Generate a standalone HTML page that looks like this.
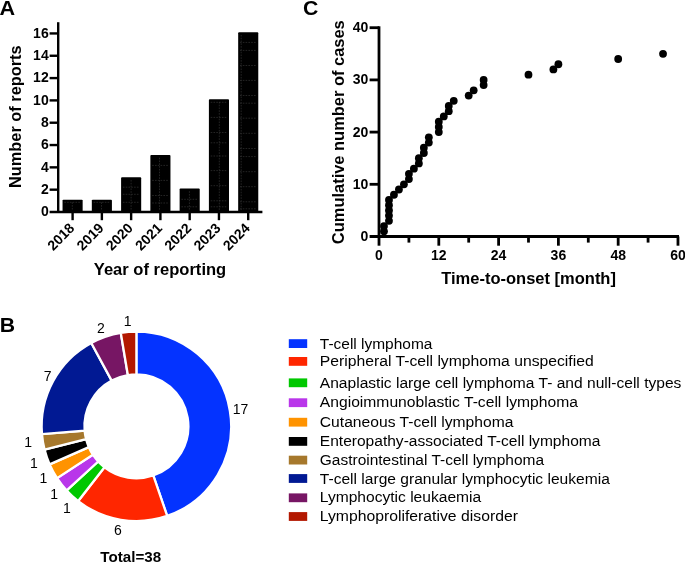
<!DOCTYPE html>
<html lang="en"><head><meta charset="utf-8"><title>Figure</title>
<style>html,body{margin:0;padding:0;background:#fff}svg{display:block;will-change:transform}text{font-family:"Liberation Sans",Arial,Helvetica,sans-serif;fill:#000}.b{font-weight:700}</style></head><body>
<svg width="685" height="563" viewBox="0 0 685 563">
<rect width="685" height="563" fill="#fff"/>
<g id="panelA">
<text class="b" font-size="19.3" transform="translate(-0.6 15.3) scale(1.12 1)">A</text>
<path d="M58.2 22.2V213.0" stroke="#000" stroke-width="2.4" fill="none"/>
<path d="M49.6 212.0H262.4" stroke="#000" stroke-width="2.4" fill="none"/>
<path d="M49.6 189.68H58.2" stroke="#000" stroke-width="2.4"/>
<path d="M49.6 167.36H58.2" stroke="#000" stroke-width="2.4"/>
<path d="M49.6 145.04H58.2" stroke="#000" stroke-width="2.4"/>
<path d="M49.6 122.72H58.2" stroke="#000" stroke-width="2.4"/>
<path d="M49.6 100.40H58.2" stroke="#000" stroke-width="2.4"/>
<path d="M49.6 78.08H58.2" stroke="#000" stroke-width="2.4"/>
<path d="M49.6 55.76H58.2" stroke="#000" stroke-width="2.4"/>
<path d="M49.6 33.44H58.2" stroke="#000" stroke-width="2.4"/>
<text class="b" x="48.7" y="216.20" font-size="14" text-anchor="end">0</text>
<text class="b" x="48.7" y="193.88" font-size="14" text-anchor="end">2</text>
<text class="b" x="48.7" y="171.56" font-size="14" text-anchor="end">4</text>
<text class="b" x="48.7" y="149.24" font-size="14" text-anchor="end">6</text>
<text class="b" x="48.7" y="126.92" font-size="14" text-anchor="end">8</text>
<text class="b" x="48.7" y="104.60" font-size="14" text-anchor="end">10</text>
<text class="b" x="48.7" y="82.28" font-size="14" text-anchor="end">12</text>
<text class="b" x="48.7" y="59.96" font-size="14" text-anchor="end">14</text>
<text class="b" x="48.7" y="37.64" font-size="14" text-anchor="end">16</text>
<rect x="62.55" y="199.64" width="20.1" height="12.36" rx="0.9" fill="#000"/>
<path d="M72.60 212.0V220.2" stroke="#000" stroke-width="2.4"/>
<text class="b" font-size="14" text-anchor="end" transform="translate(75.20 229.1) rotate(-45)">2018</text>
<rect x="91.82" y="199.64" width="20.1" height="12.36" rx="0.9" fill="#000"/>
<path d="M101.87 212.0V220.2" stroke="#000" stroke-width="2.4"/>
<text class="b" font-size="14" text-anchor="end" transform="translate(104.47 229.1) rotate(-45)">2019</text>
<rect x="121.09" y="177.32" width="20.1" height="34.68" rx="0.9" fill="#000"/>
<path d="M131.14 212.0V220.2" stroke="#000" stroke-width="2.4"/>
<text class="b" font-size="14" text-anchor="end" transform="translate(133.74 229.1) rotate(-45)">2020</text>
<rect x="150.36" y="155.00" width="20.1" height="57.00" rx="0.9" fill="#000"/>
<path d="M160.41 212.0V220.2" stroke="#000" stroke-width="2.4"/>
<text class="b" font-size="14" text-anchor="end" transform="translate(163.01 229.1) rotate(-45)">2021</text>
<rect x="179.63" y="188.48" width="20.1" height="23.52" rx="0.9" fill="#000"/>
<path d="M189.68 212.0V220.2" stroke="#000" stroke-width="2.4"/>
<text class="b" font-size="14" text-anchor="end" transform="translate(192.28 229.1) rotate(-45)">2022</text>
<rect x="208.90" y="99.20" width="20.1" height="112.80" rx="0.9" fill="#000"/>
<path d="M218.95 212.0V220.2" stroke="#000" stroke-width="2.4"/>
<text class="b" font-size="14" text-anchor="end" transform="translate(221.55 229.1) rotate(-45)">2023</text>
<rect x="238.17" y="32.24" width="20.1" height="179.76" rx="0.9" fill="#000"/>
<path d="M248.22 212.0V220.2" stroke="#000" stroke-width="2.4"/>
<text class="b" font-size="14" text-anchor="end" transform="translate(250.82 229.1) rotate(-45)">2024</text>
<path d="M72.3 202.3V210.5" stroke="#3c3c3c" stroke-width="0.6" stroke-dasharray="1.6 1.2" fill="none"/>
<path d="M64.3 202.3H80.8" stroke="#3c3c3c" stroke-width="0.6" stroke-dasharray="1.6 1.2" fill="none"/>
<path d="M101.5 202.3V210.5" stroke="#3c3c3c" stroke-width="0.6" stroke-dasharray="1.6 1.2" fill="none"/>
<path d="M93.6 202.3H110.1" stroke="#3c3c3c" stroke-width="0.6" stroke-dasharray="1.6 1.2" fill="none"/>
<path d="M131.1 180.0V210.5" stroke="#3c3c3c" stroke-width="0.6" stroke-dasharray="1.6 1.2" fill="none"/>
<path d="M122.9 187.2H139.4" stroke="#3c3c3c" stroke-width="0.6" stroke-dasharray="1.6 1.2" fill="none"/>
<path d="M122.9 194.3H139.4" stroke="#3c3c3c" stroke-width="0.6" stroke-dasharray="1.6 1.2" fill="none"/>
<path d="M122.9 202.3H139.4" stroke="#3c3c3c" stroke-width="0.6" stroke-dasharray="1.6 1.2" fill="none"/>
<path d="M159.5 157.7V210.5" stroke="#3c3c3c" stroke-width="0.6" stroke-dasharray="1.6 1.2" fill="none"/>
<path d="M152.2 165.4H168.7" stroke="#3c3c3c" stroke-width="0.6" stroke-dasharray="1.6 1.2" fill="none"/>
<path d="M152.2 180.4H168.7" stroke="#3c3c3c" stroke-width="0.6" stroke-dasharray="1.6 1.2" fill="none"/>
<path d="M152.2 195.5H168.7" stroke="#3c3c3c" stroke-width="0.6" stroke-dasharray="1.6 1.2" fill="none"/>
<path d="M152.2 203.0H168.7" stroke="#3c3c3c" stroke-width="0.6" stroke-dasharray="1.6 1.2" fill="none"/>
<path d="M189.4 191.2V210.5" stroke="#3c3c3c" stroke-width="0.6" stroke-dasharray="1.6 1.2" fill="none"/>
<path d="M181.4 199.3H197.9" stroke="#3c3c3c" stroke-width="0.6" stroke-dasharray="1.6 1.2" fill="none"/>
<path d="M181.4 206.8H197.9" stroke="#3c3c3c" stroke-width="0.6" stroke-dasharray="1.6 1.2" fill="none"/>
<path d="M219.3 101.9V210.5" stroke="#3c3c3c" stroke-width="0.6" stroke-dasharray="1.6 1.2" fill="none"/>
<path d="M210.7 102.3H227.2" stroke="#3c3c3c" stroke-width="0.6" stroke-dasharray="1.6 1.2" fill="none"/>
<path d="M210.7 117.4H227.2" stroke="#3c3c3c" stroke-width="0.6" stroke-dasharray="1.6 1.2" fill="none"/>
<path d="M210.7 132.5H227.2" stroke="#3c3c3c" stroke-width="0.6" stroke-dasharray="1.6 1.2" fill="none"/>
<path d="M210.7 142.8H227.2" stroke="#3c3c3c" stroke-width="0.6" stroke-dasharray="1.6 1.2" fill="none"/>
<path d="M210.7 156.0H227.2" stroke="#3c3c3c" stroke-width="0.6" stroke-dasharray="1.6 1.2" fill="none"/>
<path d="M210.7 170.6H227.2" stroke="#3c3c3c" stroke-width="0.6" stroke-dasharray="1.6 1.2" fill="none"/>
<path d="M210.7 185.7H227.2" stroke="#3c3c3c" stroke-width="0.6" stroke-dasharray="1.6 1.2" fill="none"/>
<path d="M210.7 200.8H227.2" stroke="#3c3c3c" stroke-width="0.6" stroke-dasharray="1.6 1.2" fill="none"/>
<path d="M210.7 206.8H227.2" stroke="#3c3c3c" stroke-width="0.6" stroke-dasharray="1.6 1.2" fill="none"/>
<path d="M241.2 34.9V210.5" stroke="#3c3c3c" stroke-width="0.6" stroke-dasharray="1.6 1.2" fill="none"/>
<path d="M240.0 42.4H256.5" stroke="#3c3c3c" stroke-width="0.6" stroke-dasharray="1.6 1.2" fill="none"/>
<path d="M240.0 50.4H256.5" stroke="#3c3c3c" stroke-width="0.6" stroke-dasharray="1.6 1.2" fill="none"/>
<path d="M240.0 65.5H256.5" stroke="#3c3c3c" stroke-width="0.6" stroke-dasharray="1.6 1.2" fill="none"/>
<path d="M240.0 80.4H256.5" stroke="#3c3c3c" stroke-width="0.6" stroke-dasharray="1.6 1.2" fill="none"/>
<path d="M240.0 95.5H256.5" stroke="#3c3c3c" stroke-width="0.6" stroke-dasharray="1.6 1.2" fill="none"/>
<path d="M240.0 103.2H256.5" stroke="#3c3c3c" stroke-width="0.6" stroke-dasharray="1.6 1.2" fill="none"/>
<path d="M240.0 118.2H256.5" stroke="#3c3c3c" stroke-width="0.6" stroke-dasharray="1.6 1.2" fill="none"/>
<path d="M240.0 133.3H256.5" stroke="#3c3c3c" stroke-width="0.6" stroke-dasharray="1.6 1.2" fill="none"/>
<path d="M240.0 148.5H256.5" stroke="#3c3c3c" stroke-width="0.6" stroke-dasharray="1.6 1.2" fill="none"/>
<path d="M240.0 156.6H256.5" stroke="#3c3c3c" stroke-width="0.6" stroke-dasharray="1.6 1.2" fill="none"/>
<path d="M240.0 171.7H256.5" stroke="#3c3c3c" stroke-width="0.6" stroke-dasharray="1.6 1.2" fill="none"/>
<path d="M240.0 186.7H256.5" stroke="#3c3c3c" stroke-width="0.6" stroke-dasharray="1.6 1.2" fill="none"/>
<path d="M240.0 201.8H256.5" stroke="#3c3c3c" stroke-width="0.6" stroke-dasharray="1.6 1.2" fill="none"/>
<path d="M240.0 208.8H256.5" stroke="#3c3c3c" stroke-width="0.6" stroke-dasharray="1.6 1.2" fill="none"/>
<text class="b" x="160" y="275" font-size="16.5" text-anchor="middle" textLength="132.4" lengthAdjust="spacingAndGlyphs">Year of reporting</text>
<text class="b" font-size="16.8" text-anchor="middle" textLength="142.6" lengthAdjust="spacingAndGlyphs" transform="translate(21.1 116.7) rotate(-90)">Number of reports</text>
</g>
<g id="panelC">
<text class="b" font-size="19.3" transform="translate(302.9 15.3) scale(1.1 1)">C</text>
<path d="M379.0 26.3V237.9" stroke="#000" stroke-width="2.8" fill="none"/>
<path d="M369.6 236.5H679" stroke="#000" stroke-width="2.8" fill="none"/>
<path d="M369.6 184.30H379.0" stroke="#000" stroke-width="2.8"/>
<path d="M369.6 132.10H379.0" stroke="#000" stroke-width="2.8"/>
<path d="M369.6 79.90H379.0" stroke="#000" stroke-width="2.8"/>
<path d="M369.6 27.70H379.0" stroke="#000" stroke-width="2.8"/>
<text class="b" x="368.4" y="240.90" font-size="14" text-anchor="end">0</text>
<text class="b" x="368.4" y="188.70" font-size="14" text-anchor="end">10</text>
<text class="b" x="368.4" y="136.50" font-size="14" text-anchor="end">20</text>
<text class="b" x="368.4" y="84.30" font-size="14" text-anchor="end">30</text>
<text class="b" x="368.4" y="32.10" font-size="14" text-anchor="end">40</text>
<path d="M379.00 236.5V245.7" stroke="#000" stroke-width="2.8"/>
<text class="b" x="379.00" y="259.8" font-size="14" text-anchor="middle">0</text>
<path d="M408.90 236.5V242.6" stroke="#000" stroke-width="2.8"/>
<path d="M438.80 236.5V245.7" stroke="#000" stroke-width="2.8"/>
<text class="b" x="438.80" y="259.8" font-size="14" text-anchor="middle">12</text>
<path d="M468.69 236.5V242.6" stroke="#000" stroke-width="2.8"/>
<path d="M498.59 236.5V245.7" stroke="#000" stroke-width="2.8"/>
<text class="b" x="498.59" y="259.8" font-size="14" text-anchor="middle">24</text>
<path d="M528.49 236.5V242.6" stroke="#000" stroke-width="2.8"/>
<path d="M558.39 236.5V245.7" stroke="#000" stroke-width="2.8"/>
<text class="b" x="558.39" y="259.8" font-size="14" text-anchor="middle">36</text>
<path d="M588.29 236.5V242.6" stroke="#000" stroke-width="2.8"/>
<path d="M618.18 236.5V245.7" stroke="#000" stroke-width="2.8"/>
<text class="b" x="618.18" y="259.8" font-size="14" text-anchor="middle">48</text>
<path d="M648.08 236.5V242.6" stroke="#000" stroke-width="2.8"/>
<path d="M677.98 236.5V245.7" stroke="#000" stroke-width="2.8"/>
<text class="b" x="677.98" y="259.8" font-size="14" text-anchor="middle">60</text>
<circle cx="383.98" cy="231.28" r="3.9" fill="#000"/>
<circle cx="383.98" cy="226.06" r="3.9" fill="#000"/>
<circle cx="388.97" cy="220.84" r="3.9" fill="#000"/>
<circle cx="388.97" cy="215.62" r="3.9" fill="#000"/>
<circle cx="388.97" cy="210.40" r="3.9" fill="#000"/>
<circle cx="388.97" cy="205.18" r="3.9" fill="#000"/>
<circle cx="388.97" cy="199.96" r="3.9" fill="#000"/>
<circle cx="393.95" cy="194.74" r="3.9" fill="#000"/>
<circle cx="398.93" cy="189.52" r="3.9" fill="#000"/>
<circle cx="403.92" cy="184.30" r="3.9" fill="#000"/>
<circle cx="408.90" cy="179.08" r="3.9" fill="#000"/>
<circle cx="408.90" cy="173.86" r="3.9" fill="#000"/>
<circle cx="413.88" cy="168.64" r="3.9" fill="#000"/>
<circle cx="418.86" cy="163.42" r="3.9" fill="#000"/>
<circle cx="418.86" cy="158.20" r="3.9" fill="#000"/>
<circle cx="423.85" cy="152.98" r="3.9" fill="#000"/>
<circle cx="423.85" cy="147.76" r="3.9" fill="#000"/>
<circle cx="428.83" cy="142.54" r="3.9" fill="#000"/>
<circle cx="428.83" cy="137.32" r="3.9" fill="#000"/>
<circle cx="438.80" cy="132.10" r="3.9" fill="#000"/>
<circle cx="438.80" cy="126.88" r="3.9" fill="#000"/>
<circle cx="438.80" cy="121.66" r="3.9" fill="#000"/>
<circle cx="443.78" cy="116.44" r="3.9" fill="#000"/>
<circle cx="448.76" cy="111.22" r="3.9" fill="#000"/>
<circle cx="448.76" cy="106.00" r="3.9" fill="#000"/>
<circle cx="453.75" cy="100.78" r="3.9" fill="#000"/>
<circle cx="468.69" cy="95.56" r="3.9" fill="#000"/>
<circle cx="473.68" cy="90.34" r="3.9" fill="#000"/>
<circle cx="483.64" cy="85.12" r="3.9" fill="#000"/>
<circle cx="483.64" cy="79.90" r="3.9" fill="#000"/>
<circle cx="528.49" cy="74.68" r="3.9" fill="#000"/>
<circle cx="553.40" cy="69.46" r="3.9" fill="#000"/>
<circle cx="558.39" cy="64.24" r="3.9" fill="#000"/>
<circle cx="618.18" cy="59.02" r="3.9" fill="#000"/>
<circle cx="663.03" cy="53.80" r="3.9" fill="#000"/>
<text class="b" x="528.6" y="284.1" font-size="16.5" text-anchor="middle" textLength="174.7" lengthAdjust="spacingAndGlyphs">Time-to-onset [month]</text>
<text class="b" font-size="16.8" text-anchor="middle" textLength="223.9" lengthAdjust="spacingAndGlyphs" transform="translate(343.9 132.2) rotate(-90)">Cumulative number of cases</text>
</g>
<g id="panelB">
<text class="b" font-size="19.3" transform="translate(-0.2 332.3) scale(1.1 1)">B</text>
<path d="M136.40 331.55A94.75 94.75 0 0 1 167.17 515.92L153.27 475.44A51.95 51.95 0 0 0 136.40 374.35Z" fill="#0433ff" stroke="#fff" stroke-width="2.3" stroke-linejoin="miter"/>
<path d="M167.17 515.92A94.75 94.75 0 0 1 78.20 501.07L104.49 467.30A51.95 51.95 0 0 0 153.27 475.44Z" fill="#ff2600" stroke="#fff" stroke-width="2.3" stroke-linejoin="miter"/>
<path d="M78.20 501.07A94.75 94.75 0 0 1 66.69 490.47L98.18 461.48A51.95 51.95 0 0 0 104.49 467.30Z" fill="#00c800" stroke="#fff" stroke-width="2.3" stroke-linejoin="miter"/>
<path d="M66.69 490.47A94.75 94.75 0 0 1 57.08 478.12L92.91 454.71A51.95 51.95 0 0 0 98.18 461.48Z" fill="#b936ea" stroke="#fff" stroke-width="2.3" stroke-linejoin="miter"/>
<path d="M57.08 478.12A94.75 94.75 0 0 1 49.63 464.36L88.83 447.17A51.95 51.95 0 0 0 92.91 454.71Z" fill="#ff9300" stroke="#fff" stroke-width="2.3" stroke-linejoin="miter"/>
<path d="M49.63 464.36A94.75 94.75 0 0 1 44.55 449.56L86.04 439.05A51.95 51.95 0 0 0 88.83 447.17Z" fill="#000000" stroke="#fff" stroke-width="2.3" stroke-linejoin="miter"/>
<path d="M44.55 449.56A94.75 94.75 0 0 1 41.97 434.12L84.63 430.59A51.95 51.95 0 0 0 86.04 439.05Z" fill="#a6782c" stroke="#fff" stroke-width="2.3" stroke-linejoin="miter"/>
<path d="M41.97 434.12A94.75 94.75 0 0 1 91.30 342.97L111.67 380.61A51.95 51.95 0 0 0 84.63 430.59Z" fill="#011993" stroke="#fff" stroke-width="2.3" stroke-linejoin="miter"/>
<path d="M91.30 342.97A94.75 94.75 0 0 1 120.80 332.84L127.85 375.06A51.95 51.95 0 0 0 111.67 380.61Z" fill="#771664" stroke="#fff" stroke-width="2.3" stroke-linejoin="miter"/>
<path d="M120.80 332.84A94.75 94.75 0 0 1 136.40 331.55L136.40 374.35A51.95 51.95 0 0 0 127.85 375.06Z" fill="#b31800" stroke="#fff" stroke-width="2.3" stroke-linejoin="miter"/>
<text x="240.6" y="413.9" font-size="14" text-anchor="middle">17</text>
<text x="117.9" y="534.9" font-size="14" text-anchor="middle">6</text>
<text x="66.9" y="513.3" font-size="14" text-anchor="middle">1</text>
<text x="54.2" y="498.8" font-size="14" text-anchor="middle">1</text>
<text x="43.5" y="483.4" font-size="14" text-anchor="middle">1</text>
<text x="34.0" y="468" font-size="14" text-anchor="middle">1</text>
<text x="28.2" y="446.6" font-size="14" text-anchor="middle">1</text>
<text x="47.7" y="380.8" font-size="14" text-anchor="middle">7</text>
<text x="101" y="333" font-size="14" text-anchor="middle">2</text>
<text x="127.7" y="325.6" font-size="14" text-anchor="middle">1</text>
<text class="b" x="130.7" y="562.2" font-size="15.2" text-anchor="middle" textLength="60.8" lengthAdjust="spacingAndGlyphs">Total=38</text>
<rect x="288.8" y="339.20" width="18.4" height="8.8" fill="#0433ff"/>
<text x="319.8" y="348.7" font-size="15.5" textLength="112.6" lengthAdjust="spacingAndGlyphs">T-cell lymphoma</text>
<rect x="288.8" y="357.00" width="18.4" height="8.8" fill="#ff2600"/>
<text x="319.8" y="366.3" font-size="15.5" textLength="273.9" lengthAdjust="spacingAndGlyphs">Peripheral T-cell lymphoma unspecified</text>
<rect x="288.8" y="378.40" width="18.4" height="8.8" fill="#00c800"/>
<text x="319.8" y="387.8" font-size="15.5" textLength="361.6" lengthAdjust="spacingAndGlyphs">Anaplastic large cell lymphoma T- and null-cell types</text>
<rect x="288.8" y="398.30" width="18.4" height="8.8" fill="#b936ea"/>
<text x="319.8" y="407.4" font-size="15.5" textLength="258.1" lengthAdjust="spacingAndGlyphs">Angioimmunoblastic T-cell lymphoma</text>
<rect x="288.8" y="417.80" width="18.4" height="8.8" fill="#ff9300"/>
<text x="319.8" y="426.8" font-size="15.5" textLength="193.6" lengthAdjust="spacingAndGlyphs">Cutaneous T-cell lymphoma</text>
<rect x="288.8" y="437.00" width="18.4" height="8.8" fill="#000000"/>
<text x="319.8" y="446.0" font-size="15.5" textLength="280.6" lengthAdjust="spacingAndGlyphs">Enteropathy-associated T-cell lymphoma</text>
<rect x="288.8" y="455.70" width="18.4" height="8.8" fill="#a6782c"/>
<text x="319.8" y="465.0" font-size="15.5" textLength="224.3" lengthAdjust="spacingAndGlyphs">Gastrointestinal T-cell lymphoma</text>
<rect x="288.8" y="474.10" width="18.4" height="8.8" fill="#011993"/>
<text x="319.8" y="483.5" font-size="15.5" textLength="290.0" lengthAdjust="spacingAndGlyphs">T-cell large granular lymphocytic leukemia</text>
<rect x="288.8" y="493.40" width="18.4" height="8.8" fill="#771664"/>
<text x="319.8" y="502.1" font-size="15.5" textLength="161.4" lengthAdjust="spacingAndGlyphs">Lymphocytic leukaemia</text>
<rect x="288.8" y="512.10" width="18.4" height="8.8" fill="#b31800"/>
<text x="319.8" y="520.7" font-size="15.5" textLength="198.1" lengthAdjust="spacingAndGlyphs">Lymphoproliferative disorder</text>
</g>
</svg></body></html>
